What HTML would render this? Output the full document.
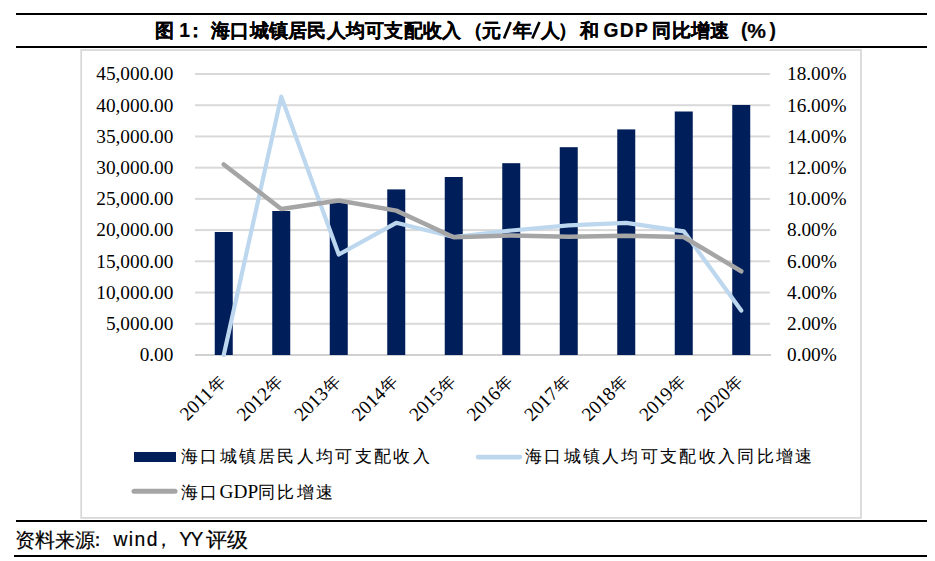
<!DOCTYPE html>
<html><head><meta charset="utf-8"><style>
html,body{margin:0;padding:0;background:#fff;}
body{width:935px;height:561px;position:relative;overflow:hidden;}
.rule{position:absolute;left:16px;width:911px;height:2px;background:#000;}
.t{position:absolute;top:15.6px;font-family:"Liberation Sans",sans-serif;font-weight:bold;font-size:19.3px;line-height:30px;color:#000;white-space:nowrap;-webkit-text-stroke:0.2px #000;}
.f{position:absolute;top:527px;-webkit-text-stroke:0.2px #000;font-family:"Liberation Sans",sans-serif;font-size:19.3px;line-height:26px;color:#000;white-space:nowrap;}
svg text{font-family:"Liberation Serif",serif;font-size:19.3px;fill:#000;}
.leg{position:absolute;font-family:"Liberation Serif",serif;font-size:17px;letter-spacing:2.3px;line-height:20px;color:#000;white-space:nowrap;}
.leg b{font-weight:normal;font-size:19.3px;letter-spacing:0;}
.sl{letter-spacing:4.3px;}
</style></head><body>
<div class="rule" style="top:13px"></div>
<span class="t" style="left:154.9px">图 1</span>
<span class="t" style="left:186.4px">：</span>
<span class="t" style="left:211px;letter-spacing:0.26px">海口城镇居民人均可支配收入</span>
<span class="t" style="left:463.9px">（</span>
<span class="t" style="left:481.9px">元</span>
<span class="t" style="left:512.9px">年</span>
<span class="t" style="left:541.2px">人</span>
<span class="t" style="left:558.2px">）</span>
<span class="t" style="left:580px">和</span>
<span class="t" style="left:603.4px;letter-spacing:1.3px">GDP</span>
<span class="t" style="left:652.4px;letter-spacing:0.26px">同比增速</span>
<span class="t" style="left:740.9px">(</span>
<span class="t" style="left:747.3px;font-size:21px">%</span>
<span class="t" style="left:769.5px">)</span>
<svg width="935" height="50" style="position:absolute;left:0;top:0"><line x1="504" y1="38.6" x2="510.7" y2="22" stroke="#000" stroke-width="2.6"/><line x1="532.3" y1="38.6" x2="539.5" y2="22" stroke="#000" stroke-width="2.6"/></svg>
<div class="rule" style="top:46px"></div>
<svg width="935" height="561" style="position:absolute;left:0;top:0">
<rect x="81.2" y="50" width="779.8" height="467.9" fill="none" stroke="#d9d9d9" stroke-width="1.8"/>
<rect x="195" y="73.00" width="575" height="2" fill="#d9d9d9"/><rect x="195" y="104.22" width="575" height="2" fill="#d9d9d9"/><rect x="195" y="135.44" width="575" height="2" fill="#d9d9d9"/><rect x="195" y="166.67" width="575" height="2" fill="#d9d9d9"/><rect x="195" y="197.89" width="575" height="2" fill="#d9d9d9"/><rect x="195" y="229.11" width="575" height="2" fill="#d9d9d9"/><rect x="195" y="260.33" width="575" height="2" fill="#d9d9d9"/><rect x="195" y="291.56" width="575" height="2" fill="#d9d9d9"/><rect x="195" y="322.78" width="575" height="2" fill="#d9d9d9"/><rect x="195" y="354" width="576" height="2" fill="#d0d0d0"/><rect x="214.75" y="232" width="18" height="123" fill="#001e5a"/><rect x="272.25" y="211" width="18" height="144" fill="#001e5a"/><rect x="329.75" y="202.5" width="18" height="152.5" fill="#001e5a"/><rect x="387.25" y="189.4" width="18" height="165.6" fill="#001e5a"/><rect x="444.75" y="177" width="18" height="178" fill="#001e5a"/><rect x="502.25" y="163.2" width="18" height="191.8" fill="#001e5a"/><rect x="559.75" y="147.2" width="18" height="207.8" fill="#001e5a"/><rect x="617.25" y="129.4" width="18" height="225.6" fill="#001e5a"/><rect x="674.75" y="111.5" width="18" height="243.5" fill="#001e5a"/><rect x="732.25" y="105" width="18" height="250" fill="#001e5a"/><polyline points="223.75,355 281.25,96.6 338.75,254.5 396.25,222.8 453.75,237 511.25,230.5 568.75,225.3 626.25,222.8 683.75,231.3 741.25,310.6" fill="none" stroke="#bdd7ee" stroke-width="4.2" stroke-linejoin="round" stroke-linecap="round"/><polyline points="223.75,164.5 281.25,209 338.75,200.5 396.25,210.6 453.75,237.2 511.25,235.5 568.75,236.8 626.25,235.8 683.75,237 741.25,271.3" fill="none" stroke="#a5a5a5" stroke-width="4.5" stroke-linejoin="round" stroke-linecap="round"/>
<text x="173.4" y="80.30" text-anchor="end">45,000.00</text><text x="173.4" y="111.52" text-anchor="end">40,000.00</text><text x="173.4" y="142.74" text-anchor="end">35,000.00</text><text x="173.4" y="173.97" text-anchor="end">30,000.00</text><text x="173.4" y="205.19" text-anchor="end">25,000.00</text><text x="173.4" y="236.41" text-anchor="end">20,000.00</text><text x="173.4" y="267.63" text-anchor="end">15,000.00</text><text x="173.4" y="298.86" text-anchor="end">10,000.00</text><text x="173.4" y="330.08" text-anchor="end">5,000.00</text><text x="173.4" y="361.30" text-anchor="end">0.00</text><text x="787" y="80.30">18.00%</text><text x="787" y="111.52">16.00%</text><text x="787" y="142.74">14.00%</text><text x="787" y="173.97">12.00%</text><text x="787" y="205.19">10.00%</text><text x="787" y="236.41">8.00%</text><text x="787" y="267.63">6.00%</text><text x="787" y="298.86">4.00%</text><text x="787" y="330.08">2.00%</text><text x="787" y="361.30">0.00%</text><text transform="translate(221.85,377.3) rotate(-45)" text-anchor="end" x="0" y="7">2011<tspan dx="0.8" style="font-size:16.5px">年</tspan></text><text transform="translate(279.35,377.3) rotate(-45)" text-anchor="end" x="0" y="7">2012<tspan dx="0.8" style="font-size:16.5px">年</tspan></text><text transform="translate(336.85,377.3) rotate(-45)" text-anchor="end" x="0" y="7">2013<tspan dx="0.8" style="font-size:16.5px">年</tspan></text><text transform="translate(394.35,377.3) rotate(-45)" text-anchor="end" x="0" y="7">2014<tspan dx="0.8" style="font-size:16.5px">年</tspan></text><text transform="translate(451.85,377.3) rotate(-45)" text-anchor="end" x="0" y="7">2015<tspan dx="0.8" style="font-size:16.5px">年</tspan></text><text transform="translate(509.35,377.3) rotate(-45)" text-anchor="end" x="0" y="7">2016<tspan dx="0.8" style="font-size:16.5px">年</tspan></text><text transform="translate(566.85,377.3) rotate(-45)" text-anchor="end" x="0" y="7">2017<tspan dx="0.8" style="font-size:16.5px">年</tspan></text><text transform="translate(624.35,377.3) rotate(-45)" text-anchor="end" x="0" y="7">2018<tspan dx="0.8" style="font-size:16.5px">年</tspan></text><text transform="translate(681.85,377.3) rotate(-45)" text-anchor="end" x="0" y="7">2019<tspan dx="0.8" style="font-size:16.5px">年</tspan></text><text transform="translate(739.35,377.3) rotate(-45)" text-anchor="end" x="0" y="7">2020<tspan dx="0.8" style="font-size:16.5px">年</tspan></text>
<rect x="134" y="452" width="42" height="10" fill="#001e5a"/>
<line x1="478" y1="457.1" x2="520" y2="457.1" stroke="#bdd7ee" stroke-width="4.6" stroke-linecap="round"/>
<line x1="134" y1="491.3" x2="175" y2="491.3" stroke="#a5a5a5" stroke-width="5" stroke-linecap="round"/>
</svg>
<div class="leg" style="left:181px;top:447px">海口城镇居民人均可支配收入</div>
<div class="leg" style="left:525px;top:447px">海口城镇人均可支配收入同比增速</div>
<div class="leg" style="left:181px;top:482px">海口<b>GDP</b>同比增速</div>
<div class="rule" style="top:520px"></div>
<span class="f" style="left:15px;font-size:20.2px">资料来源</span>
<span class="f" style="left:88px">：</span>
<span class="f" style="left:113.4px;letter-spacing:1.45px">wind</span>
<span class="f" style="left:153.5px">，</span>
<span class="f" style="left:179.2px;letter-spacing:-1.5px">YY</span>
<span class="f" style="left:206px;font-size:20.5px">评级</span>
<div class="rule" style="top:555px;left:14px;width:913px"></div>
</body></html>
